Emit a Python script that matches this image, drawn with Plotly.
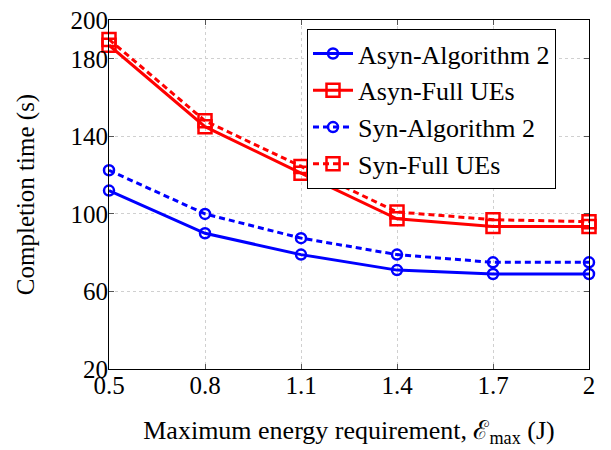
import plotly.graph_objects as go

x_vals = [0.5, 0.8, 1.1, 1.4, 1.7, 2.0]
asyn_alg2 = [112, 90, 79, 71, 69, 69]
asyn_full = [187, 145, 121, 97.5, 93.5, 93.5]
syn_alg2 = [122.5, 100, 87.5, 79, 75, 75]
syn_full = [190, 148, 124.5, 101, 97, 96]
names = ["Asyn-Algorithm 2", "Asyn-Full UEs", "Syn-Algorithm 2", "Syn-Full UEs"]
x_ticks = [0.5, 0.8, 1.1, 1.4, 1.7, 2.0]
x_tick_text = ["0.5", "0.8", "1.1", "1.4", "1.7", "2"]
y_ticks = [20, 60, 100, 140, 180, 200]

BLUE = "#0000ff"
RED = "#ff0000"
FONT = "Liberation Serif, Times New Roman, serif"

fig = go.Figure()
specs = [
    (asyn_alg2, names[0], BLUE, "solid", "circle-open", 10),
    (asyn_full, names[1], RED, "solid", "square-open", 13),
    (syn_alg2, names[2], BLUE, "6px,4px", "circle-open", 10),
    (syn_full, names[3], RED, "6px,4px", "square-open", 13),
]
for ys, nm, col, dash, sym, sz in specs:
    fig.add_trace(go.Scatter(
        x=x_vals, y=ys, name=nm, mode="lines+markers",
        line=dict(color=col, width=3, dash=dash),
        marker=dict(symbol=sym, size=sz, color=col, line=dict(color=col, width=2.5)),
        cliponaxis=False,
    ))

axis_common = dict(
    showline=True, linecolor="black", linewidth=1, mirror="ticks",
    ticks="inside", ticklen=5, tickcolor="#555", showgrid=True,
    gridcolor="#d0d0d0", griddash="dot", gridwidth=1, zeroline=False,
    automargin=False, ticklabeloverflow="allow",
    tickfont=dict(family=FONT, size=25, color="black"),
)

# page body has an 8px margin, so the figure is sized to fit inside the window
fig.update_layout(
    width=603, height=442,
    margin=dict(l=101, r=22, t=12, b=81),
    plot_bgcolor="white", paper_bgcolor="white",
    font=dict(family=FONT, color="black"),
    xaxis=dict(range=[0.5, 2.0], tickvals=x_ticks, ticktext=x_tick_text,
               ticklabelstandoff=-6,
               title=dict(text="Maximum energy requirement, ℰ<sub>max</sub> (J)",
                          font=dict(family=FONT, size=26), standoff=22),
               **axis_common),
    yaxis=dict(range=[20, 200], tickvals=y_ticks,
               ticklabelstandoff=-5,
               title=dict(text="Completion time (s)", font=dict(family=FONT, size=25), standoff=28),
               **axis_common),
    legend=dict(x=0.4125, y=0.974, xanchor="left", yanchor="top",
                bgcolor="white", bordercolor="black", borderwidth=1,
                font=dict(family=FONT, size=26), tracegroupgap=0,
                itemwidth=40),
    showlegend=True,
)

fig.write_html("out.html")
